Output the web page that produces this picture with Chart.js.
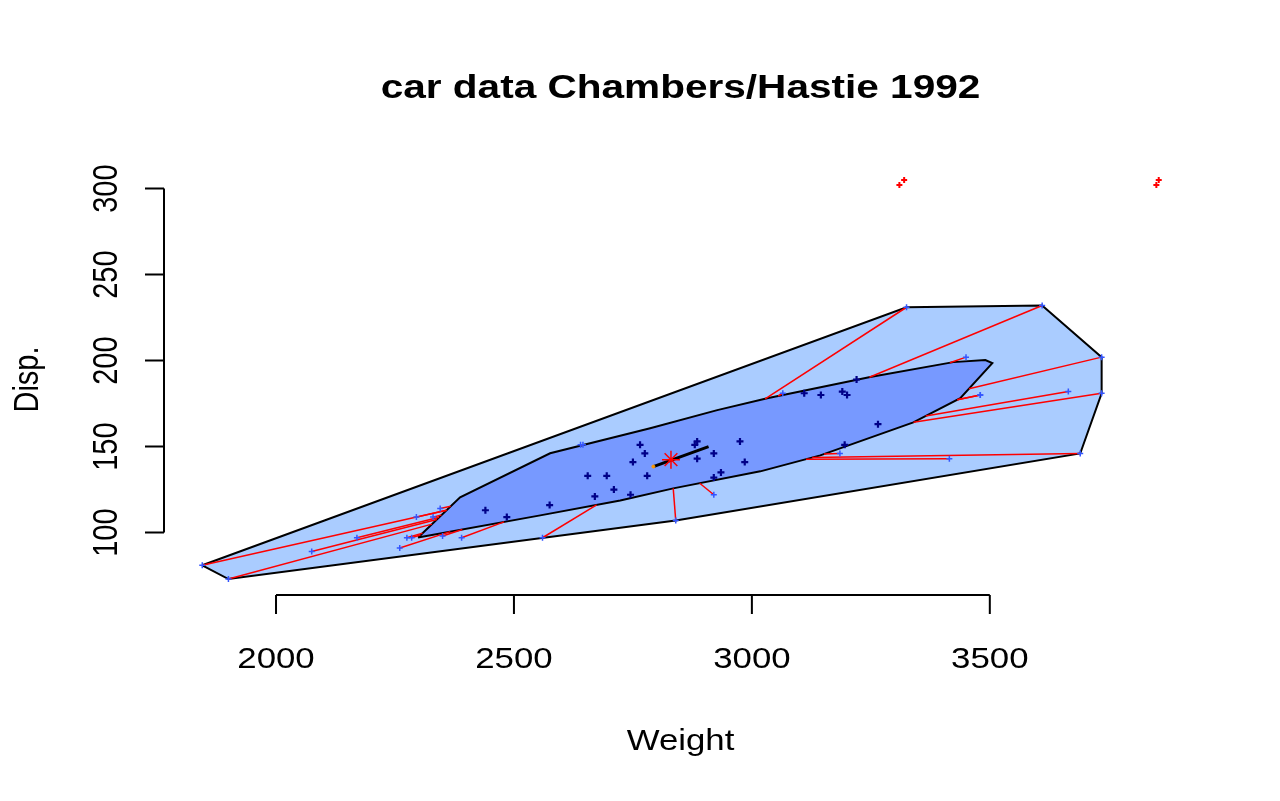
<!DOCTYPE html>
<html><head><meta charset="utf-8">
<script src="https://cdn.jsdelivr.net/npm/chart.js@4.4.1/dist/chart.umd.min.js"></script>
<style>html,body{margin:0;padding:0;background:#fff;overflow:hidden}canvas{display:block}</style>
</head><body>
<canvas id="c" width="1280" height="801"></canvas>
<script>
// ---- texts and ticks ----
const chartTitle = 'car data Chambers/Hastie 1992';
const xLabel = 'Weight';
const yLabel = 'Disp.';
const xTicks = [2000, 2500, 3000, 3500];
const yTicks = [100, 150, 200, 250, 300];
const xRange = [1764.6, 3935.4];
const yRange = [63.72, 314.28];

// ---- points inside the bag ----
const bagWeight = [2440, 2485, 2575, 2655, 2670, 2695, 2710, 2745, 2750, 2765, 2775, 2780, 2880, 2885, 2885, 2920, 2920, 2935, 2975, 2985, 3110, 3145, 3190, 3195, 3200, 3220, 3265];
const bagDisp   = [113, 109, 116, 133, 121, 133, 125, 122, 141, 151, 146, 133, 151, 153, 143, 146, 132, 135, 153, 141, 181, 180, 182, 151, 180, 189, 163];

// ---- points in the loop (outside the bag) ----
const loopWeight = [1845, 1900, 2075, 2170, 2260, 2275, 2285, 2295, 2330, 2345, 2350, 2390, 2560, 2640, 2645, 2840, 2920, 3065, 3185, 3415, 3450, 3480, 3480, 3610, 3325, 3665, 3690, 3735, 3735];
const loopDisp   = [81, 73, 89, 97, 91, 97, 97, 109, 109, 114, 98, 97, 97, 151, 151, 107, 122, 181, 146, 143, 202, 180, 180, 232, 231, 182, 146, 181, 202];

// ---- outliers ----
const outWeight = [3320, 3310, 3855, 3850];
const outDisp   = [305, 302, 305, 302];

// ---- loop hull ----
const loopHullWeight = [1845, 1900, 2840, 3690, 3735, 3735, 3610, 3325];
const loopHullDisp   = [81, 73, 107, 146, 181, 202, 232, 231];

// ---- bag hull ----
const bagHullWeight = [2298.5, 2386.8, 2576, 2786.3, 2927.2, 3032.3, 3248.8, 3423.3, 3490.6, 3505.3, 3438, 3339.3, 3143.8, 3017.7, 2834.8, 2723.4, 2555.3];
const bagHullDisp   = [97.2, 120.5, 146.1, 160.7, 171.2, 178.1, 190.4, 199.1, 200.3, 198.5, 178.1, 164.1, 144.9, 135.6, 125.7, 118.7, 110];

// ---- center and median region ----
const centerWeight = [2830];
const centerDisp = [142.4];
const medianWeight = [2793, 2909];
const medianDisp = [138.4, 150];

// ---- style constants ----
const BASE = 29, SX = 1.2, TICK = 19, TITLE = 33.8;
const FONT = '"Liberation Sans", Arial, Helvetica, sans-serif';

const P = (xs, ys) => xs.map((v, i) => ({x: v, y: ys[i]}));
const closed = pts => pts.concat([pts[0]]);

const bagPoly = P(bagHullWeight, bagHullDisp);
const center = {x: centerWeight[0], y: centerDisp[0]};

function hitT(p, c, a, b) {
  const rx = c.x - p.x, ry = c.y - p.y, sx = b.x - a.x, sy = b.y - a.y;
  const den = rx * sy - ry * sx;
  if (Math.abs(den) < 1e-12) return null;
  const qx = a.x - p.x, qy = a.y - p.y;
  const t = (qx * sy - qy * sx) / den, u = (qx * ry - qy * rx) / den;
  return (t >= 0 && t <= 1 && u >= 0 && u <= 1) ? t : null;
}

const whiskerSets = [];
P(loopWeight, loopDisp).forEach(p => {
  let best = null;
  for (let i = 0; i < bagPoly.length; i++) {
    const t = hitT(p, center, bagPoly[i], bagPoly[(i + 1) % bagPoly.length]);
    if (t !== null && (best === null || t < best)) best = t;
  }
  if (best !== null && best > 0) {
    whiskerSets.push({
      type: 'line',
      data: [p, {x: p.x + best * (center.x - p.x), y: p.y + best * (center.y - p.y)}],
      borderColor: '#ff0000', borderWidth: 1.5, pointRadius: 0, fill: false, tension: 0, order: 8
    });
  }
});

const rAxes = {
  id: 'rAxes',
  afterDraw(chart) {
    const {ctx, chartArea: a, scales: {x, y}} = chart;
    ctx.save();
    ctx.strokeStyle = '#000';
    ctx.lineWidth = 2;
    ctx.beginPath();
    const xa = x.getPixelForValue(xTicks[0]), xb = x.getPixelForValue(xTicks[xTicks.length - 1]);
    ctx.moveTo(xa, a.bottom); ctx.lineTo(xb, a.bottom);
    xTicks.forEach(v => { const p = x.getPixelForValue(v); ctx.moveTo(p, a.bottom); ctx.lineTo(p, a.bottom + TICK); });
    const ya = y.getPixelForValue(yTicks[0]), yb = y.getPixelForValue(yTicks[yTicks.length - 1]);
    ctx.moveTo(a.left, ya); ctx.lineTo(a.left, yb);
    yTicks.forEach(v => { const p = y.getPixelForValue(v); ctx.moveTo(a.left, p); ctx.lineTo(a.left - TICK, p); });
    ctx.stroke();

    ctx.fillStyle = '#000';
    ctx.textAlign = 'center';
    ctx.textBaseline = 'alphabetic';
    const hText = (s, cx, by, font) => {
      ctx.save(); ctx.translate(cx, by); ctx.scale(SX, 1); ctx.font = font; ctx.fillText(s, 0, 0); ctx.restore();
    };
    const vText = (s, bx, cy, font) => {
      ctx.save(); ctx.translate(bx, cy); ctx.scale(SX, 1); ctx.rotate(-Math.PI / 2); ctx.font = font; ctx.fillText(s, 0, 0); ctx.restore();
    };
    const f = BASE + 'px ' + FONT;
    xTicks.forEach(v => hText(String(v), x.getPixelForValue(v), 668, f));
    yTicks.forEach(v => vText(String(v), 117, y.getPixelForValue(v), f));
    const midX = (a.left + a.right) / 2, midY = (a.top + a.bottom) / 2;
    hText(xLabel, midX, 750, f);
    vText(yLabel, 38, midY, f);
    hText(chartTitle, midX, 98, 'bold ' + TITLE + 'px ' + FONT);
    ctx.restore();
  }
};

new Chart(document.getElementById('c'), {
  type: 'scatter',
  data: {
    datasets: [
      {type: 'line', label: 'loop', data: closed(P(loopHullWeight, loopHullDisp)), fill: 'shape',
       backgroundColor: '#aaccff', borderColor: '#000', borderWidth: 2, pointRadius: 0, tension: 0, order: 10},
      {type: 'line', label: 'bag', data: closed(bagPoly), fill: 'shape',
       backgroundColor: '#7799ff', borderColor: '#000', borderWidth: 2, pointRadius: 0, tension: 0, order: 9},
      ...whiskerSets,
      {type: 'line', label: 'median', data: P(medianWeight, medianDisp), borderColor: '#000', borderWidth: 3,
       pointRadius: 0, fill: false, tension: 0, order: 7},
      {label: 'bag points', data: P(bagWeight, bagDisp), pointStyle: 'cross', pointRadius: 3.5,
       borderColor: '#000088', backgroundColor: '#000088', borderWidth: 2.2, order: 5},
      {label: 'loop points', data: P(loopWeight, loopDisp), pointStyle: 'cross', pointRadius: 3,
       borderColor: '#3355ff', backgroundColor: '#3355ff', borderWidth: 1.5, order: 4},
      {label: 'outliers', data: P(outWeight, outDisp), pointStyle: 'cross', pointRadius: 3,
       borderColor: '#ff0000', backgroundColor: '#ff0000', borderWidth: 2, order: 3},
      {label: 'center', data: P(centerWeight, centerDisp), pointStyle: 'star', pointRadius: 9,
       borderColor: '#ff0000', backgroundColor: '#ff0000', borderWidth: 1.5, order: 2},
      {label: 'median end', data: [{x: medianWeight[0], y: medianDisp[0]}], pointStyle: 'circle', pointRadius: 1.5,
       borderColor: '#ff9900', backgroundColor: '#ff9900', borderWidth: 1, order: 1}
    ]
  },
  options: {
    responsive: false,
    animation: false,
    devicePixelRatio: 1,
    layout: {padding: {left: 164, right: 83, top: 164, bottom: 206}},
    plugins: {legend: {display: false}, title: {display: false}, tooltip: {enabled: false}},
    scales: {
      x: {type: 'linear', min: xRange[0], max: xRange[1], display: false},
      y: {type: 'linear', min: yRange[0], max: yRange[1], display: false}
    }
  },
  plugins: [rAxes]
});
</script>
</body></html>
